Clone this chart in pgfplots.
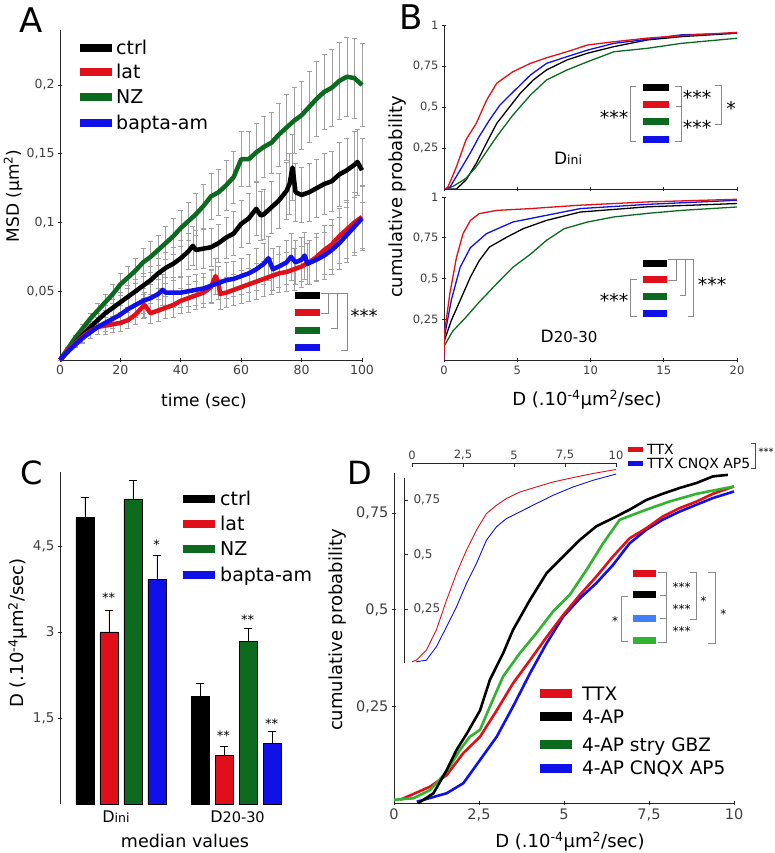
\documentclass[border=0pt]{standalone}
\usepackage{fontspec}
\setmainfont{DejaVu Sans}
\usepackage{pgfplots}
\usepackage{pgfplotstable}
\pgfplotsset{compat=1.18}
\definecolor{cred}{HTML}{E0101A}
\definecolor{cgreen}{HTML}{0B6A1E}
\definecolor{cblue}{HTML}{1010E8}
\definecolor{clgreen}{HTML}{30B430}
\definecolor{clblue}{HTML}{3F80F8}
\definecolor{cgray}{HTML}{8A8A8A}
\newcommand{\fs}[1]{\fontsize{#1}{#1}\selectfont}

\pgfplotstableread{
t y e
0 0.000 0.000
2.5 0.008 0.001
5 0.016 0.002
7.5 0.023 0.003
10 0.030 0.004
12.5 0.036 0.005
15 0.042 0.006
17.5 0.048 0.007
20 0.055 0.008
22.5 0.060 0.008
25 0.065 0.009
27.5 0.071 0.010
30 0.075 0.011
32.5 0.080 0.011
35 0.085 0.012
37.5 0.090 0.013
40 0.096 0.013
42.5 0.101 0.014
45 0.106 0.015
47.5 0.112 0.016
50 0.119 0.017
52.5 0.122 0.017
55 0.127 0.018
57.5 0.133 0.019
60 0.146 0.020
62.5 0.146 0.020
65 0.151 0.021
67.5 0.155 0.022
70 0.158 0.022
72.5 0.164 0.023
75 0.169 0.024
77.5 0.174 0.024
80 0.178 0.025
82.5 0.184 0.026
85 0.190 0.027
87.5 0.195 0.027
90 0.198 0.028
92.5 0.203 0.028
95 0.206 0.029
97.5 0.205 0.029
100 0.200 0.030
}\tabNZ

\pgfplotstableread{
t y e
0 0 0
2.5 0.006 0.001
5 0.012 0.002
7.5 0.018 0.003
10 0.024 0.004
12.5 0.029 0.005
15 0.034 0.006
17.5 0.038 0.006
20 0.042 0.007
22.5 0.046 0.008
25 0.050 0.009
27.5 0.054 0.009
30 0.058 0.010
32.5 0.063 0.011
35 0.067 0.011
37.5 0.070 0.012
40 0.074 0.013
42.5 0.079 0.013
44 0.083 0.014
45 0.080 0.014
47.5 0.081 0.014
50 0.082 0.014
52.5 0.085 0.014
55 0.089 0.015
57.5 0.092 0.016
60 0.099 0.017
62.5 0.103 0.018
65 0.110 0.019
66.5 0.105 0.018
67.5 0.106 0.018
70 0.111 0.019
72.5 0.116 0.020
75 0.123 0.021
76 0.128 0.022
77 0.140 0.024
78 0.122 0.021
80 0.120 0.020
82.5 0.122 0.021
85 0.125 0.021
87.5 0.128 0.022
90 0.130 0.022
92.5 0.135 0.023
95 0.138 0.023
97.5 0.142 0.024
98.5 0.144 0.024
100 0.138 0.023
}\tabCtrl

\pgfplotstableread{
t y e
0 0 0
2.5 0.007 0.002
5 0.012 0.003
7.5 0.017 0.004
10 0.021 0.005
12.5 0.024 0.005
15 0.025 0.006
17.5 0.026 0.006
20 0.027 0.006
22.5 0.029 0.006
25 0.033 0.007
27.5 0.039 0.009
28 0.040 0.009
30 0.034 0.007
32.5 0.036 0.008
35 0.038 0.008
37.5 0.040 0.009
40 0.043 0.009
42.5 0.045 0.010
45 0.047 0.010
47.5 0.049 0.011
50 0.053 0.012
51.5 0.061 0.013
52.5 0.056 0.012
53 0.048 0.011
55 0.049 0.011
57.5 0.051 0.011
60 0.053 0.012
62.5 0.055 0.012
65 0.057 0.013
67.5 0.059 0.013
70 0.061 0.013
72.5 0.063 0.014
75 0.064 0.014
77.5 0.066 0.015
80 0.068 0.015
82.5 0.071 0.016
85 0.075 0.017
87.5 0.080 0.018
90 0.084 0.018
92.5 0.090 0.020
95 0.095 0.021
97.5 0.100 0.022
100 0.104 0.023
}\tabLat

\pgfplotstableread{
t y e
0 0 0
2.5 0.006 0.001
5 0.011 0.002
7.5 0.016 0.004
10 0.020 0.004
12.5 0.024 0.005
15 0.027 0.006
17.5 0.030 0.007
20 0.033 0.007
22.5 0.037 0.008
25 0.040 0.009
27.5 0.043 0.009
30 0.045 0.010
32.5 0.048 0.011
34 0.051 0.011
35 0.049 0.011
37.5 0.049 0.011
40 0.049 0.011
42.5 0.050 0.011
45 0.051 0.011
47.5 0.052 0.011
50 0.054 0.012
52.5 0.056 0.012
55 0.058 0.013
57.5 0.059 0.013
60 0.061 0.013
62.5 0.063 0.014
65 0.066 0.015
67.5 0.070 0.015
69 0.074 0.016
70.5 0.066 0.015
72.5 0.068 0.015
75 0.071 0.016
76.5 0.075 0.017
78 0.071 0.016
80 0.073 0.016
81 0.076 0.017
82 0.070 0.015
85 0.073 0.016
87.5 0.076 0.017
90 0.080 0.018
92.5 0.085 0.019
95 0.091 0.020
97.5 0.097 0.021
100 0.103 0.023
}\tabBapta

\newcommand{\Dini}[2]{{\fs{#1}D}{\fs{#2}ini}}
\newcommand{\Dtw}[2]{{\fs{#1}D}{\fs{#2}20-30}}
\newcommand{\Dunit}{D (.10\textsuperscript{-4}µm\textsuperscript{2}/sec)}

\begin{document}
\begin{tikzpicture}
\path[use as bounding box] (0,0) rectangle (774pt,853pt);
\pgfplotsset{every axis/.append style={scale only axis, anchor=south west,
  axis line style={line width=0.8pt, black!85}, tick style={line width=0.8pt, black!85},
  tick align=outside, major tick length=4pt, tick label style={text=black!75},
  scaled ticks=false},
  noarr/.style={x axis line style={-}, y axis line style={-}}}

% ---------------- A
\begin{axis}[at={(60pt,493pt)}, width=302pt, height=330pt,
  xmin=0, xmax=100, ymin=0, ymax=0.24,
  axis x line=bottom, axis y line=left, noarr,
  xtick={0,20,40,60,80,100}, xticklabels={0,20,40,60,80,100},
  ytick={0.05,0.1,0.15,0.2}, yticklabels={{0,05},{0,1},{0,15},{0,2}},
  tick label style={font=\fs{12.5}}, clip=false]
\pgfplotsset{ebar/.style={draw=none, forget plot, error bars/y dir=both, error bars/y explicit,
  error bars/error bar style={draw=cgray!80, line width=0.5pt, solid},
  error bars/error mark options={draw=cgray!80, line width=0.5pt, mark size=2.5pt, rotate=90}}}
\addplot[ebar] table[x=t, y=y, y error=e]{\tabNZ};
\addplot[ebar] table[x=t, y=y, y error=e]{\tabCtrl};
\addplot[ebar] table[x=t, y=y, y error=e]{\tabLat};
\addplot[ebar] table[x=t, y=y, y error=e]{\tabBapta};
\addplot[cgreen, line width=4.5pt, line join=round] table[x=t, y=y]{\tabNZ};
\addplot[black, line width=4.5pt, line join=round] table[x=t, y=y]{\tabCtrl};
\addplot[cred, line width=4.5pt, line join=round] table[x=t, y=y]{\tabLat};
\addplot[cblue, line width=4.5pt, line join=round] table[x=t, y=y]{\tabBapta};
\end{axis}

% ---------------- B top
\begin{axis}[at={(444pt,664pt)}, width=293pt, height=164pt,
  xmin=0, xmax=20, ymin=0, ymax=1,
  axis x line=bottom, axis y line=left, noarr,
  xtick={0,5,10,15,20}, xticklabels={},
  ytick={0.25,0.5,0.75,1}, yticklabels={{0,25},{0,5},{0,75},1},
  tick label style={font=\fs{11.5}}]
\addplot[black, line width=1.3pt] coordinates {(0,0) (0.85,0.0) (1.5,0.055) (2.2,0.156) (2.9,0.28) (3.6,0.40) (4.3,0.48) (5.2,0.583) (6.1,0.665) (7.0,0.726) (8.4,0.787) (9.8,0.828) (11.6,0.868) (13.9,0.909) (16.2,0.929) (20,0.95)};
\addplot[cgreen, line width=1.3pt] coordinates {(0,0) (0.6,0.015) (1.5,0.065) (2.2,0.136) (2.9,0.228) (3.6,0.32) (4.7,0.45) (5.9,0.573) (7.0,0.665) (8.4,0.726) (9.8,0.776) (11.6,0.837) (13.9,0.858) (16.2,0.888) (20,0.919)};
\addplot[cblue, line width=1.3pt] coordinates {(0,0) (0.4,0.01) (1.1,0.115) (1.8,0.22) (2.4,0.32) (3.1,0.42) (3.8,0.51) (4.7,0.59) (5.9,0.695) (7.0,0.766) (8.4,0.807) (9.8,0.847) (11.6,0.888) (13.9,0.913) (16.2,0.94) (20,0.95)};
\addplot[cred, line width=1.3pt] coordinates {(0,0) (0.2,0.0) (0.5,0.06) (0.85,0.136) (1.5,0.30) (2.2,0.40) (2.9,0.54) (3.6,0.645) (4.7,0.715) (5.9,0.766) (7.0,0.80) (8.4,0.837) (9.8,0.878) (11.6,0.898) (13.9,0.92) (16.2,0.935) (20,0.955)};
\end{axis}

% ---------------- B bottom
\begin{axis}[at={(444pt,492.5pt)}, width=293pt, height=163.5pt,
  xmin=0, xmax=20, ymin=0, ymax=1,
  axis x line=bottom, axis y line=left, noarr,
  xtick={0,5,10,15,20}, xticklabels={0,5,10,15,20},
  ytick={0.25,0.5,0.75,1}, yticklabels={{0,25},{0,5},{0,75},1},
  tick label style={font=\fs{11.5}}]
\addplot[black, line width=1.3pt] coordinates {(0,0) (0.02,0.12) (0.5,0.245) (1.1,0.367) (1.8,0.51) (2.4,0.61) (3.1,0.694) (4.3,0.755) (5.4,0.806) (7.0,0.857) (9.3,0.908) (13.9,0.94) (20,0.96)};
\addplot[cgreen, line width=1.3pt] coordinates {(0,0) (0.02,0.09) (0.6,0.18) (1.5,0.265) (2.4,0.357) (3.6,0.47) (4.7,0.57) (5.9,0.65) (7.0,0.735) (8.2,0.806) (9.8,0.847) (11.6,0.878) (13.9,0.90) (16.2,0.918) (20,0.939)};
\addplot[cblue, line width=1.3pt] coordinates {(0,0) (0.02,0.14) (0.5,0.37) (1.1,0.57) (1.8,0.69) (2.9,0.776) (4.7,0.847) (7.0,0.888) (9.3,0.929) (13.9,0.955) (20,0.98)};
\addplot[cred, line width=1.3pt] coordinates {(0,0) (0.02,0.16) (0.4,0.41) (0.85,0.63) (1.3,0.776) (1.8,0.857) (2.4,0.898) (3.6,0.918) (5.9,0.929) (9.3,0.95) (13.9,0.97) (20,0.986)};
\end{axis}

% ---------------- C
\begin{axis}[at={(60pt,49pt)}, width=229pt, height=332pt,
  xmin=-1.04, xmax=8.5, ymin=0, ymax=5.79,
  axis x line=none, axis y line=left, noarr,
  xtick=\empty, ytick={1.5,3,4.5}, yticklabels={{1,5},3,{4,5}},
  tick label style={font=\fs{13.5}}, clip=false]
\pgfplotsset{cbar/.style={ybar, bar width=18pt, bar shift=0pt, draw=black, line width=0.6pt,
  error bars/y dir=plus, error bars/y explicit,
  error bars/error bar style={draw=black, line width=0.9pt},
  error bars/error mark options={draw=black, line width=0.9pt, mark size=4pt, rotate=90}}}
\addplot[cbar, fill=black] coordinates {(0,5.0) +- (0,0.35) (4.8,1.87) +- (0,0.24)};
\addplot[cbar, fill=cred] coordinates {(1,3.0) +- (0,0.38) (5.8,0.85) +- (0,0.16)};
\addplot[cbar, fill=cgreen] coordinates {(2,5.32) +- (0,0.33) (6.8,2.83) +- (0,0.24)};
\addplot[cbar, fill=cblue] coordinates {(3,3.92) +- (0,0.41) (7.8,1.06) +- (0,0.20)};
\end{axis}

% ---------------- D main
\begin{axis}[at={(394pt,49.7pt)}, width=340pt, height=330pt,
  xmin=0, xmax=10, ymin=0, ymax=0.853,
  axis x line=bottom, axis y line=left, noarr,
  xtick={0,2.5,5,7.5,10}, xticklabels={0,{2,5},5,{7,5},10},
  ytick={0.25,0.5,0.75}, yticklabels={{0,25},{0,5},{0,75}},
  tick label style={font=\fs{14.5}}, clip=false]
\addplot[cblue, line width=2.6pt] coordinates {(0.67,0.004) (1.55,0.026) (2.04,0.052) (2.53,0.112) (3.02,0.172) (3.5,0.25) (4.0,0.336) (4.49,0.414) (4.98,0.483) (5.47,0.53) (5.95,0.569) (6.44,0.616) (6.93,0.672) (7.42,0.707) (7.9,0.733) (8.4,0.754) (8.9,0.772) (9.38,0.789) (10,0.806)};
\addplot[cred, line width=2.6pt] coordinates {(0.18,0.009) (1.06,0.043) (1.55,0.073) (2.04,0.13) (2.53,0.172) (3.02,0.24) (3.5,0.31) (4.0,0.37) (4.49,0.43) (4.98,0.487) (5.47,0.539) (5.95,0.586) (6.44,0.638) (6.93,0.685) (7.42,0.711) (7.9,0.741) (8.4,0.763) (8.9,0.78) (9.38,0.80) (10,0.819)};
\addplot[clgreen, line width=2.6pt] coordinates {(0,0.009) (0.57,0.013) (1.06,0.034) (1.55,0.082) (1.94,0.138) (2.23,0.172) (2.53,0.19) (2.82,0.25) (3.21,0.328) (3.7,0.388) (4.19,0.44) (4.68,0.496) (5.17,0.539) (5.66,0.603) (6.15,0.672) (6.64,0.733) (7.42,0.759) (8.1,0.78) (8.9,0.80) (10,0.819)};
\addplot[black, line width=2.6pt] coordinates {(0.71,0) (1.16,0.026) (1.55,0.086) (1.84,0.138) (2.14,0.18) (2.53,0.24) (2.82,0.319) (3.21,0.388) (3.5,0.448) (4.0,0.526) (4.49,0.595) (4.98,0.638) (5.47,0.681) (5.95,0.716) (6.44,0.737) (6.93,0.759) (7.42,0.784) (7.9,0.80) (8.4,0.815) (8.9,0.828) (9.38,0.845) (9.82,0.849)};
\end{axis}

% ---------------- D inset (curves + top x axis)
\begin{axis}[at={(412pt,189.5pt)}, width=204pt, height=200.3pt,
  xmin=0, xmax=10, ymin=0, ymax=0.919,
  axis x line=top, axis y line=none, noarr,
  xtick={0,2.5,5,7.5,10}, xticklabels={0,{2,5},5,{7,5},10},
  ytick=\empty, tick align=inside,
  tick label style={font=\fs{11.5}}, clip=false]
\addplot[cred, line width=0.9pt] coordinates {(0,0.008) (0.21,0.015) (0.70,0.061) (1.19,0.153) (1.69,0.29) (2.18,0.413) (2.67,0.52) (3.16,0.612) (3.65,0.688) (4.14,0.726) (4.63,0.757) (5.29,0.787) (6.10,0.81) (6.92,0.833) (7.90,0.853) (8.89,0.872) (10,0.89)};
\addplot[cblue, line width=0.9pt] coordinates {(0.21,0.008) (0.70,0.015) (1.19,0.076) (1.69,0.168) (2.18,0.26) (2.67,0.367) (3.16,0.459) (3.65,0.566) (4.14,0.627) (4.63,0.665) (5.29,0.696) (6.10,0.734) (6.92,0.772) (7.90,0.81) (8.89,0.841) (10,0.869)};
\end{axis}
% ---------------- D inset y axis
\begin{axis}[at={(404pt,189.5pt)}, width=20pt, height=185.3pt,
  xmin=0, xmax=1, ymin=0, ymax=0.85,
  axis x line=none, axis y line=left, noarr,
  xtick=\empty, ytick={0.25,0.5,0.75}, yticklabels={{0,25},{0,5},{0,75}},
  tick align=inside,
  yticklabel style={anchor=west, xshift=6pt},
  tick label style={font=\fs{12}}]
\addplot[draw=none] coordinates {(0,0)};
\end{axis}

% ---------------- annotations (pixel coordinates, y down)
\begin{scope}[shift={(0pt,853pt)}, x=1pt, y=-1pt]
% A
\node[font=\fs{34}] at (31,20) {A};
\node[font=\fs{17}] at (204,401) {time (sec)};
\node[font=\fs{17}, rotate=90] at (13,196) {MSD (µm\textsuperscript{2})};
\foreach \c/\y/\t in {black/48/ctrl, cred/72/lat, cgreen/97/NZ, cblue/123/bapta-am} {
  \draw[\c, line width=8pt] (80,\y) -- (112,\y);
  \node[font=\fs{19}, anchor=base west, inner sep=0pt] at (116,{\y+7}) {\t};
}
\foreach \c/\y in {black/296, cred/313, cgreen/331, cblue/348}
  \draw[\c, line width=7pt] (295,\y) -- (320,\y);
\draw[cgray, line width=0.8pt] (321,293) -- (328,293) -- (328,313) -- (321,313);
\draw[cgray, line width=0.8pt] (328,293) -- (337,293) -- (337,328) -- (331,328);
\draw[cgray, line width=0.8pt] (337,293) -- (347,293) -- (347,350) -- (341,350);
\node[font=\fs{18}] at (364,316) {***};

% B
\node[font=\fs{34}] at (411.5,17.5) {B};
\node[font=\fs{18}, rotate=90] at (398,197) {cumulative probability};
\node[font=\fs{18}] at (587,400) {\Dunit};
\node[anchor=base, inner sep=0pt] at (568,165) {\Dini{17}{12.5}};
\node[anchor=base, inner sep=0pt] at (569,343) {\Dtw{17}{15}};
\foreach \c/\y in {black/87.7, cred/104.3, cgreen/122, cblue/139.3}
  \draw[\c, line width=7pt] (643.3,\y) -- (668.7,\y);
\draw[cgray, line width=0.8pt] (636,86) -- (630,86) -- (630,141.7) -- (636,141.7);
\draw[cgray, line width=0.8pt] (675,86) -- (681,86) -- (681,141.7) -- (675,141.7);
\draw[cgray, line width=0.8pt] (676,106) -- (681,106);
\draw[cgray, line width=0.8pt] (715,85) -- (721.7,85) -- (721.7,124) -- (715,124);
\node[font=\fs{19}] at (614,117) {***};
\node[font=\fs{19}] at (697,97) {***};
\node[font=\fs{19}] at (697,127) {***};
\node[font=\fs{19}] at (731,108) {*};
\foreach \c/\y in {black/263.3, cred/279.3, cgreen/296.7, cblue/314}
  \draw[\c, line width=7pt] (642.7,\y) -- (667.3,\y);
\draw[cgray, line width=0.8pt] (668,259.3) -- (676,259.3) -- (676,280) -- (668,280);
\draw[cgray, line width=0.8pt] (676,259.3) -- (685,259.3) -- (685,295) -- (680,295);
\draw[cgray, line width=0.8pt] (685,259.3) -- (693.3,259.3) -- (693.3,316.7) -- (688,316.7);
\draw[cgray, line width=0.8pt] (636.7,279.3) -- (630.7,279.3) -- (630.7,316.7) -- (636.7,316.7);
\node[font=\fs{19}] at (712,284) {***};
\node[font=\fs{19}] at (614,300) {***};

% C
\node[font=\fs{32}] at (31.5,473) {C};
\node[font=\fs{18}, rotate=90] at (18,633) {\Dunit};
\node[anchor=base, inner sep=0pt] at (116,823) {\Dini{16}{12.5}};
\node[anchor=base, inner sep=0pt] at (237.5,823) {\Dtw{16}{14.5}};
\node[font=\fs{17.5}] at (185,841) {median values};
\foreach \c/\y/\t in {black/499/ctrl, cred/524/lat, cgreen/549/NZ, cblue/575/bapta-am} {
  \draw[\c, line width=8pt] (183,\y) -- (215,\y);
  \node[font=\fs{19}, anchor=base west, inner sep=0pt] at (220,{\y+7}) {\t};
}
\node[font=\fs{13}] at (108.7,598) {**};
\node[font=\fs{13}] at (156.7,545) {*};
\node[font=\fs{13}] at (247.5,620) {**};
\node[font=\fs{13}] at (223.3,736) {**};
\node[font=\fs{13}] at (271.7,724) {**};

% D
\node[font=\fs{32}] at (359.5,473) {D};
\node[font=\fs{18}, rotate=90] at (338,630) {cumulative probability};
\node[font=\fs{18}] at (570,842) {\Dunit};
\foreach \c/\y/\t in {cred/694/TTX, black/716.7/4-AP, cgreen/745/4-AP stry GBZ, cblue/768.3/4-AP CNQX AP5} {
  \draw[\c, line width=9pt] (540,\y) -- (572,\y);
  \node[font=\fs{18.5}, anchor=base west, inner sep=0pt] at (582,{\y+6.5}) {\t};
}
\foreach \c/\y/\t in {cred/449.3/TTX, cblue/463.3/TTX CNQX AP5} {
  \draw[\c, line width=5pt] (628.3,\y) -- (643.3,\y);
  \node[font=\fs{14}, anchor=base west, inner sep=0pt] at (647,{\y+5}) {\t};
}
\draw[black!70, line width=0.7pt] (751,443.3) -- (755,443.3) -- (755,468.3) -- (751,468.3);
\node[font=\fs{10}] at (766,452) {***};
\foreach \c/\y in {cred/574, black/595, clblue/618.3, clgreen/640.7}
  \draw[\c, line width=7pt] (633.3,\y) -- (656,\y);
\draw[cgray, line width=0.8pt] (658,572.7) -- (666.7,572.7) -- (666.7,642.7) -- (658,642.7);
\draw[cgray, line width=0.8pt] (660,595) -- (666.7,595);
\draw[cgray, line width=0.8pt] (660,618.3) -- (666.7,618.3);
\draw[cgray, line width=0.8pt] (690,572.7) -- (696.7,572.7) -- (696.7,619.3) -- (690,619.3);
\draw[cgray, line width=0.8pt] (708.3,572.7) -- (715,572.7) -- (715,643.3) -- (708.3,643.3);
\draw[cgray, line width=0.8pt] (628.3,596) -- (621.3,596) -- (621.3,641.7) -- (628.3,641.7);
\node[font=\fs{12}] at (681.7,587) {***};
\node[font=\fs{12}] at (681.7,609) {***};
\node[font=\fs{12}] at (681.7,631) {***};
\node[font=\fs{12}] at (703.3,601) {*};
\node[font=\fs{12}] at (723.3,614) {*};
\node[font=\fs{12}] at (615,621) {*};
\end{scope}
\end{tikzpicture}
\end{document}
